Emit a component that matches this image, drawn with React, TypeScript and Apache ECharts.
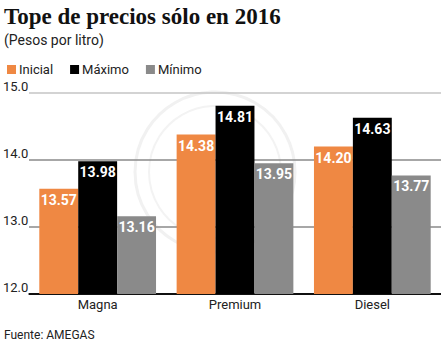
import React, { useEffect, useRef } from "react";
import * as echarts from "echarts";

const categories = ["Magna", "Premium", "Diesel"];
const inicial = [13.57, 14.38, 14.2];
const maximo = [13.98, 14.81, 14.63];
const minimo = [13.16, 13.95, 13.77];
const yTicks = [12, 13, 14, 15];

const FONT = "Roboto, 'Open Sans', sans-serif";

export default function App() {
  const ref = useRef<HTMLDivElement>(null);
  useEffect(() => {
    if (!ref.current) return;
    const chart = echarts.init(ref.current, null, { renderer: "svg" });
    const label = {
      show: true,
      position: "insideTop",
      distance: 4,
      color: "#fff",
      fontFamily: FONT,
      fontWeight: "bold",
      fontSize: 14,
      formatter: (p: any) => p.value.toFixed(2),
    };
    const mk = (name: string, data: number[], color: string) => ({
      name,
      type: "bar",
      data,
      itemStyle: { color },
      label,
      barGap: "0%",
      barCategoryGap: "15%",
    });
    chart.setOption({
      animation: false,
      backgroundColor: "#fff",
      title: {
        text: "Tope de precios sólo en 2016",
        subtext: "(Pesos por litro)",
        left: 4,
        top: 5,
        padding: 0,
        itemGap: 5,
        textStyle: {
          fontFamily: "'Liberation Serif', serif",
          fontWeight: "bold",
          fontSize: 23,
          color: "#111",
        },
        subtextStyle: { fontFamily: FONT, fontSize: 14, color: "#222" },
      },
      legend: {
        left: 7,
        top: 63,
        padding: 0,
        icon: "rect",
        itemWidth: 9,
        itemHeight: 9,
        itemGap: 17,
        textStyle: { fontFamily: FONT, fontSize: 13, color: "#222", padding: [0, 0, 0, -2] },
        data: ["Inicial", "Máximo", "Mínimo"],
      },
      grid: { left: 28, right: 0, top: 93, bottom: 56, containLabel: false },
      xAxis: {
        type: "category",
        data: categories,
        axisLine: { lineStyle: { color: "#000", width: 1.5 } },
        axisTick: { show: false },
        axisLabel: { fontFamily: FONT, fontSize: 13, color: "#222", margin: 4 },
      },
      yAxis: {
        type: "value",
        min: yTicks[0],
        max: yTicks[yTicks.length - 1],
        interval: 1,
        axisLine: { show: false },
        axisTick: { show: false },
        axisLabel: {
          fontFamily: FONT,
          fontSize: 13,
          color: "#222",
          align: "left",
          verticalAlign: "bottom",
          margin: 26,
          formatter: (v: number) => v.toFixed(1),
        },
        splitLine: {
          lineStyle: { color: ["#000", "#8a8a8a", "#8a8a8a", "#c4c4c4"], width: 1.5 },
        },
      },
      graphic: [
        {
          type: "circle",
          shape: { cx: 215, cy: 172, r: 80 },
          style: { fill: "none", stroke: "#f1f1f1", lineWidth: 3 },
          silent: true,
          z: -1,
        },
        {
          type: "circle",
          shape: { cx: 215, cy: 172, r: 66 },
          style: { fill: "none", stroke: "#f3f3f3", lineWidth: 2 },
          silent: true,
          z: -1,
        },
        {
          type: "text",
          left: 4,
          top: 329,
          style: { text: "Fuente: AMEGAS", fontFamily: FONT, fontSize: 12, fill: "#222" },
        },
      ],
      series: [
        mk("Inicial", inicial, "#EF8843"),
        mk("Máximo", maximo, "#000000"),
        mk("Mínimo", minimo, "#8a8a8a"),
      ],
    });
    return () => chart.dispose();
  }, []);
  return (
    <div
      ref={ref}
      style={{ position: "fixed", left: 0, top: 0, width: 441, height: 350 }}
    />
  );
}
